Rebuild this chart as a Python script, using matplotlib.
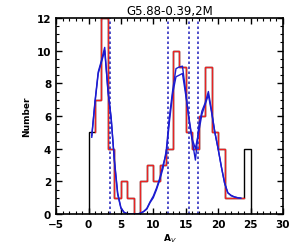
import matplotlib

matplotlib.use("Agg")
import matplotlib.pyplot as plt
import numpy as np
from matplotlib.ticker import MultipleLocator

# histogram of A_V, unit bins from 0 to 25
bin_edges = np.arange(0, 26)
counts = [5, 7, 12, 4, 1, 2, 1, 0, 2, 3, 2, 3, 4, 10, 9, 5, 4, 6, 9, 5, 4, 1, 1, 1, 4]

# smoothed fits (two runs)
fit_x = np.arange(0.5, 24.0, 0.5)
fit_a = [4.7, 6.9, 8.7, 9.4, 10.2, 7.5, 5.9, 3.2, 1.2, 0.35, 0.1, 0.02, 0.0, 0.0,
         0.0, 0.05, 0.15, 0.3, 0.7, 1.0, 1.5, 2.1, 2.8, 3.9, 6.0, 7.6, 8.9, 9.0,
         9.05, 7.5, 5.8, 4.5, 3.3, 5.3, 6.3, 6.8, 7.5, 6.3, 5.0, 4.0, 2.9, 1.9,
         1.3, 1.15, 1.05, 1.0, 0.97]
fit_b = [4.8, 6.8, 8.6, 9.3, 10.0, 7.6, 5.8, 3.3, 1.3, 0.4, 0.1, 0.02, 0.0, 0.0,
         0.0, 0.05, 0.15, 0.35, 0.75, 1.1, 1.6, 2.2, 3.0, 3.7, 5.7, 7.4, 8.4, 8.5,
         8.6, 7.3, 5.9, 4.6, 4.0, 5.0, 6.1, 6.7, 7.3, 6.2, 5.0, 4.0, 2.9, 1.9,
         1.3, 1.12, 1.05, 1.0, 0.97]

# boundaries marked with dotted lines
cuts = [3.3, 12.2, 15.5, 16.95]

plt.rcParams["font.family"] = ["DejaVu Sans"]

fig = plt.figure(figsize=(3.0, 2.53), dpi=100)
ax = fig.add_axes([0.187, 0.150, 0.756, 0.775])

ax.stairs(counts, bin_edges, baseline=0, fill=False, color="black", lw=1.0)
# red outline covers the inner bins, starting from the first bin's level
ax.step(bin_edges[1:25], counts[0:24], where="pre", color="#e82424", lw=1.0)

for c in cuts:
    ax.axvline(c, color="#3030c0", lw=1.2, ls=(0, (1.5, 1.5)))

ax.plot(fit_x, fit_a, color="#1c1cd0", lw=1.0)
ax.plot(fit_x, fit_b, color="#1c1cd0", lw=1.0)

ax.set_xlim(-5, 30)
ax.set_ylim(0, 12)
ax.xaxis.set_major_locator(MultipleLocator(5))
ax.xaxis.set_minor_locator(MultipleLocator(1))
ax.yaxis.set_major_locator(MultipleLocator(2))
ax.yaxis.set_minor_locator(MultipleLocator(0.5))
ax.tick_params(which="both", direction="in", top=True, right=True, labelsize=7.5)
ax.tick_params(which="major", length=4, width=1)
ax.tick_params(which="minor", length=2, width=0.8)
for lab in ax.get_xticklabels() + ax.get_yticklabels():
    lab.set_fontweight("bold")
for s in ax.spines.values():
    s.set_linewidth(1.2)

ax.set_xlabel("A$_V$", fontsize=6.5, fontweight="bold", labelpad=2)
ax.set_ylabel("Number", fontsize=6.5, fontweight="bold", labelpad=4)
ax.set_title("G5.88-0.39,2M", fontsize=8.5, pad=3)

fig.savefig("out.png", dpi=100)
